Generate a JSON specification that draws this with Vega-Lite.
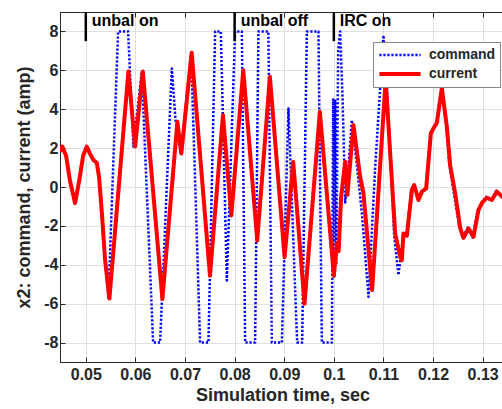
{
  "$schema": "https://vega.github.io/schema/vega-lite/v6.json",
  "width": 445,
  "height": 350,
  "autosize": {"type": "none"},
  "padding": {"left": 60, "top": 12, "right": 0, "bottom": 47},
  "background": "white",
  "config": {
    "font": "Liberation Sans",
    "view": {"stroke": "#262626", "strokeWidth": 1},
    "axis": {
      "domainColor": "#262626",
      "tickColor": "#262626",
      "gridColor": "#e0e0e0",
      "gridOpacity": 1,
      "labelFont": "Liberation Sans",
      "labelFontWeight": "bold",
      "labelFontSize": 16,
      "labelColor": "#262626",
      "titleFont": "Liberation Sans",
      "titleFontWeight": "bold",
      "titleFontSize": 18,
      "titleColor": "#262626",
      "tickSize": -5
    },
    "legend": {
      "orient": "none",
      "legendX": 313,
      "legendY": 30,
      "symbolType": "stroke",
      "symbolSize": 1700,
      "clipHeight": 18,
      "labelFont": "Liberation Sans",
      "labelFontSize": 14,
      "labelFontWeight": "bold",
      "labelColor": "#262626",
      "labelOffset": 6,
      "padding": 4,
      "rowPadding": 1,
      "fillColor": "white",
      "strokeColor": "#888888"
    }
  },
  "datasets": {
    "signals": [
      {"t": 0.04482, "v": 1.82, "s": "command"},
      {"t": 0.04528, "v": 2.08, "s": "command"},
      {"t": 0.04603, "v": 1.6, "s": "command"},
      {"t": 0.04683, "v": 0.3, "s": "command"},
      {"t": 0.04784, "v": -0.83, "s": "command"},
      {"t": 0.04865, "v": 0.3, "s": "command"},
      {"t": 0.04946, "v": 1.6, "s": "command"},
      {"t": 0.0502, "v": 2.08, "s": "command"},
      {"t": 0.05087, "v": 1.7, "s": "command"},
      {"t": 0.05153, "v": 1.39, "s": "command"},
      {"t": 0.05222, "v": 1.24, "s": "command"},
      {"t": 0.05268, "v": 0.5, "s": "command"},
      {"t": 0.05329, "v": -1.5, "s": "command"},
      {"t": 0.05389, "v": -3.76, "s": "command"},
      {"t": 0.05456, "v": -5.7, "s": "command"},
      {"t": 0.05651, "v": 8, "s": "command"},
      {"t": 0.05853, "v": 8, "s": "command"},
      {"t": 0.0596, "v": 2.08, "s": "command"},
      {"t": 0.06129, "v": 5.94, "s": "command"},
      {"t": 0.06357, "v": -8, "s": "command"},
      {"t": 0.06498, "v": -8, "s": "command"},
      {"t": 0.06734, "v": 6.1, "s": "command"},
      {"t": 0.0681, "v": 3.4, "s": "command"},
      {"t": 0.06915, "v": 1.7, "s": "command"},
      {"t": 0.07123, "v": 6.9, "s": "command"},
      {"t": 0.07304, "v": -8, "s": "command"},
      {"t": 0.07472, "v": -8, "s": "command"},
      {"t": 0.07607, "v": 8, "s": "command"},
      {"t": 0.07722, "v": 8, "s": "command"},
      {"t": 0.07843, "v": -4.81, "s": "command"},
      {"t": 0.0801, "v": 8, "s": "command"},
      {"t": 0.08145, "v": 8, "s": "command"},
      {"t": 0.08212, "v": -8, "s": "command"},
      {"t": 0.08413, "v": -8, "s": "command"},
      {"t": 0.0848, "v": 8, "s": "command"},
      {"t": 0.08681, "v": 8, "s": "command"},
      {"t": 0.0875, "v": -8, "s": "command"},
      {"t": 0.08952, "v": -8, "s": "command"},
      {"t": 0.09085, "v": 4.04, "s": "command"},
      {"t": 0.0926, "v": -8, "s": "command"},
      {"t": 0.09361, "v": -8, "s": "command"},
      {"t": 0.09456, "v": 8, "s": "command"},
      {"t": 0.0969, "v": 8, "s": "command"},
      {"t": 0.09758, "v": -8, "s": "command"},
      {"t": 0.0996, "v": -8, "s": "command"},
      {"t": 0.09986, "v": 4.5, "s": "command"},
      {"t": 0.10006, "v": -4.6, "s": "command"},
      {"t": 0.10026, "v": 4.5, "s": "command"},
      {"t": 0.1005, "v": -4.0, "s": "command"},
      {"t": 0.10087, "v": 7.0, "s": "command"},
      {"t": 0.10127, "v": 8.0, "s": "command"},
      {"t": 0.10177, "v": 4.5, "s": "command"},
      {"t": 0.10228, "v": -0.8, "s": "command"},
      {"t": 0.10278, "v": 0.5, "s": "command"},
      {"t": 0.10363, "v": 3.45, "s": "command"},
      {"t": 0.1049, "v": 0.5, "s": "command"},
      {"t": 0.10571, "v": -1.5, "s": "command"},
      {"t": 0.10698, "v": -5.65, "s": "command"},
      {"t": 0.10833, "v": 1, "s": "command"},
      {"t": 0.11, "v": 7.8, "s": "command"},
      {"t": 0.11095, "v": 4, "s": "command"},
      {"t": 0.11216, "v": -2.5, "s": "command"},
      {"t": 0.11302, "v": -4.53, "s": "command"},
      {"t": 0.11397, "v": -2.6, "s": "command"},
      {"t": 0.11458, "v": -2.6, "s": "command"},
      {"t": 0.11558, "v": -0.2, "s": "command"},
      {"t": 0.11619, "v": 0.1, "s": "command"},
      {"t": 0.117, "v": -0.7, "s": "command"},
      {"t": 0.1176, "v": -0.3, "s": "command"},
      {"t": 0.11861, "v": -0.1, "s": "command"},
      {"t": 0.11942, "v": 2.6, "s": "command"},
      {"t": 0.12002, "v": 3.0, "s": "command"},
      {"t": 0.12063, "v": 3.3, "s": "command"},
      {"t": 0.12163, "v": 5.0, "s": "command"},
      {"t": 0.12264, "v": 3.2, "s": "command"},
      {"t": 0.12325, "v": 1.2, "s": "command"},
      {"t": 0.12425, "v": -0.4, "s": "command"},
      {"t": 0.12526, "v": -2.0, "s": "command"},
      {"t": 0.12597, "v": -2.6, "s": "command"},
      {"t": 0.12698, "v": -2.1, "s": "command"},
      {"t": 0.12798, "v": -2.6, "s": "command"},
      {"t": 0.12899, "v": -1.2, "s": "command"},
      {"t": 0.1307, "v": -0.5, "s": "command"},
      {"t": 0.13171, "v": -0.7, "s": "command"},
      {"t": 0.13272, "v": -0.2, "s": "command"},
      {"t": 0.13393, "v": -0.5, "s": "command"},
      {"t": 0.1345, "v": -0.45, "s": "command"},
      {"t": 0.04482, "v": 1.82, "s": "current"},
      {"t": 0.04528, "v": 2.08, "s": "current"},
      {"t": 0.04603, "v": 1.6, "s": "current"},
      {"t": 0.04683, "v": 0.3, "s": "current"},
      {"t": 0.04784, "v": -0.83, "s": "current"},
      {"t": 0.04865, "v": 0.3, "s": "current"},
      {"t": 0.04946, "v": 1.6, "s": "current"},
      {"t": 0.0502, "v": 2.08, "s": "current"},
      {"t": 0.05087, "v": 1.7, "s": "current"},
      {"t": 0.05153, "v": 1.39, "s": "current"},
      {"t": 0.05222, "v": 1.24, "s": "current"},
      {"t": 0.05268, "v": 0.5, "s": "current"},
      {"t": 0.05329, "v": -1.5, "s": "current"},
      {"t": 0.05389, "v": -3.76, "s": "current"},
      {"t": 0.05476, "v": -5.74, "s": "current"},
      {"t": 0.05859, "v": 5.94, "s": "current"},
      {"t": 0.05994, "v": 2.08, "s": "current"},
      {"t": 0.06149, "v": 5.94, "s": "current"},
      {"t": 0.06544, "v": -5.76, "s": "current"},
      {"t": 0.06846, "v": 3.35, "s": "current"},
      {"t": 0.06926, "v": 1.72, "s": "current"},
      {"t": 0.07134, "v": 6.91, "s": "current"},
      {"t": 0.07503, "v": -4.55, "s": "current"},
      {"t": 0.07765, "v": 3.69, "s": "current"},
      {"t": 0.07933, "v": -1.46, "s": "current"},
      {"t": 0.08174, "v": 6.01, "s": "current"},
      {"t": 0.08456, "v": -2.75, "s": "current"},
      {"t": 0.08711, "v": 5.67, "s": "current"},
      {"t": 0.09007, "v": -3.61, "s": "current"},
      {"t": 0.09181, "v": 1.29, "s": "current"},
      {"t": 0.09409, "v": -6.01, "s": "current"},
      {"t": 0.09718, "v": 3.87, "s": "current"},
      {"t": 0.1, "v": -4.55, "s": "current"},
      {"t": 0.10061, "v": -2.9, "s": "current"},
      {"t": 0.10097, "v": -3.3, "s": "current"},
      {"t": 0.10147, "v": -0.5, "s": "current"},
      {"t": 0.10228, "v": 1.3, "s": "current"},
      {"t": 0.10274, "v": -0.4, "s": "current"},
      {"t": 0.10395, "v": 3.19, "s": "current"},
      {"t": 0.1053, "v": 0.53, "s": "current"},
      {"t": 0.10597, "v": -0.33, "s": "current"},
      {"t": 0.10772, "v": -5.3, "s": "current"},
      {"t": 0.11044, "v": 5.5, "s": "current"},
      {"t": 0.11236, "v": -2.39, "s": "current"},
      {"t": 0.11337, "v": -3.59, "s": "current"},
      {"t": 0.11371, "v": -3.76, "s": "current"},
      {"t": 0.11403, "v": -2.39, "s": "current"},
      {"t": 0.11472, "v": -2.5, "s": "current"},
      {"t": 0.11573, "v": -0.15, "s": "current"},
      {"t": 0.11619, "v": 0.1, "s": "current"},
      {"t": 0.11706, "v": -0.67, "s": "current"},
      {"t": 0.11774, "v": -0.24, "s": "current"},
      {"t": 0.11861, "v": -0.07, "s": "current"},
      {"t": 0.11956, "v": 2.77, "s": "current"},
      {"t": 0.12008, "v": 3.02, "s": "current"},
      {"t": 0.12077, "v": 3.3, "s": "current"},
      {"t": 0.12177, "v": 5.08, "s": "current"},
      {"t": 0.12278, "v": 3.1, "s": "current"},
      {"t": 0.12345, "v": 1.1, "s": "current"},
      {"t": 0.12446, "v": -0.33, "s": "current"},
      {"t": 0.12546, "v": -2.1, "s": "current"},
      {"t": 0.12613, "v": -2.62, "s": "current"},
      {"t": 0.12714, "v": -2.13, "s": "current"},
      {"t": 0.12815, "v": -2.56, "s": "current"},
      {"t": 0.12915, "v": -1.19, "s": "current"},
      {"t": 0.1299, "v": -0.8, "s": "current"},
      {"t": 0.13085, "v": -0.55, "s": "current"},
      {"t": 0.13185, "v": -0.67, "s": "current"},
      {"t": 0.13286, "v": -0.24, "s": "current"},
      {"t": 0.13393, "v": -0.5, "s": "current"},
      {"t": 0.1345, "v": -0.45, "s": "current"}
    ],
    "events": [
      {"t": 0.05, "label": "unbal on"},
      {"t": 0.08, "label": "unbal off"},
      {"t": 0.1, "label": "IRC on"}
    ]
  },
  "resolve": {"axis": {"x": "independent"}},
  "layer": [
    {
      "data": {"name": "signals"},
      "mark": {"type": "line", "clip": true, "strokeCap": "butt", "strokeJoin": "round"},
      "encoding": {
        "x": {
          "field": "t",
          "type": "quantitative",
          "scale": {"domain": [0.0448, 0.1345], "nice": false, "zero": false},
          "axis": {
            "orient": "bottom",
            "title": "Simulation time, sec",
            "values": [0.05, 0.06, 0.07, 0.08, 0.09, 0.1, 0.11, 0.12, 0.13],
            "format": "~g",
            "labelPadding": 9,
            "titlePadding": 4
          }
        },
        "y": {
          "field": "v",
          "type": "quantitative",
          "scale": {"domain": [-9, 9], "nice": false},
          "axis": {
            "title": "x2: command, current (amp)",
            "values": [-8, -6, -4, -2, 0, 2, 4, 6, 8],
            "labelExpr": "'' + datum.value",
            "labelPadding": 7,
            "titlePadding": 10
          }
        },
        "color": {
          "field": "s",
          "type": "nominal",
          "scale": {"domain": ["command", "current"], "range": ["#0000ff", "#ff0000"]},
          "legend": {"title": null}
        },
        "strokeDash": {
          "field": "s",
          "type": "nominal",
          "scale": {"domain": ["command", "current"], "range": [[2.2, 1.8], [1, 0]]},
          "legend": {"title": null}
        },
        "strokeWidth": {
          "field": "s",
          "type": "nominal",
          "scale": {"domain": ["command", "current"], "range": [2.5, 4]},
          "legend": {"title": null}
        }
      }
    },
    {
      "data": {"name": "events"},
      "mark": {"type": "rule", "color": "black", "strokeWidth": 2.5},
      "encoding": {
        "x": {
          "field": "t",
          "type": "quantitative",
          "axis": {
            "orient": "top",
            "values": [0.05, 0.06, 0.07, 0.08, 0.09, 0.1, 0.11, 0.12, 0.13],
            "labels": false,
            "title": null,
            "grid": false,
            "domain": false,
            "tickSize": -5
          }
        },
        "y": {"datum": 9},
        "y2": {"datum": 7.5}
      }
    },
    {
      "data": {"name": "events"},
      "mark": {
        "type": "text",
        "align": "left",
        "baseline": "alphabetic",
        "dx": 6,
        "font": "Liberation Sans",
        "fontSize": 16,
        "fontWeight": "bold",
        "color": "black"
      },
      "encoding": {
        "x": {"field": "t", "type": "quantitative", "axis": null},
        "y": {"datum": 8.26},
        "text": {"field": "label"}
      }
    }
  ]
}
